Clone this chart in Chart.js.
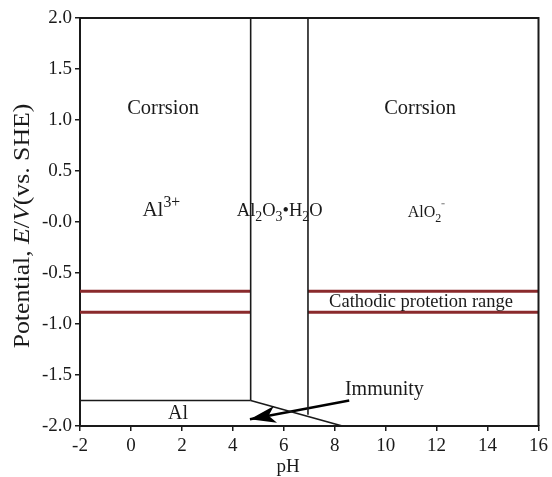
<!DOCTYPE html>
<html>
<head>
<meta charset="utf-8">
<script src="https://cdn.jsdelivr.net/npm/chart.js@4.4.1/dist/chart.umd.min.js"></script>
<style>
  html, body { margin: 0; padding: 0; background: #fff; }
  #wrap { width: 552px; height: 477px; }
</style>
</head>
<body>
<div id="wrap"><canvas id="chart" width="552" height="477"></canvas></div>
<script>
// tick labels (y axis prints "-0.0" in the source figure)
const yTickLabels = ["-2.0", "-1.5", "-1.0", "-0.5", "-0.0", "0.5", "1.0", "1.5", "2.0"];

// phase boundaries, as pH / potential pairs
const oxideLeftPH = [4.7, 4.7];
const oxideLeftE = [2.0, -1.75];
const oxideRightPH = [6.95, 6.95];
const oxideRightE = [2.0, -1.89];
const metalLinePH = [-2, 4.7];
const metalLineE = [-1.75, -1.75];
const metalSlopePH = [4.7, 8.3];
const metalSlopeE = [-1.75, -2.0];

// cathodic protection band (two potentials, broken by the oxide region)
const cathodicE = [-0.68, -0.885];
const cathodicLeftPH = [-2, 4.7];
const cathodicRightPH = [6.95, 16];

// "Immunity" pointer, tail -> tip
const arrowPH = [8.57, 4.67];
const arrowE = [-1.75, -1.934];

const FONT = "'Liberation Serif', 'Times New Roman', serif";
const INK = "#1a1a1a";
const RED = "#8a2a2c";

function pts(xs, ys) {
  return xs.map((x, i) => ({ x: x, y: ys[i] }));
}

function lineSet(data, color, width) {
  return {
    data: data,
    showLine: true,
    borderColor: color,
    borderWidth: width,
    pointRadius: 0,
    pointHoverRadius: 0,
    fill: false,
  };
}

const datasets = [
  lineSet(pts(oxideLeftPH, oxideLeftE), INK, 1.6),
  lineSet(pts(oxideRightPH, oxideRightE), INK, 1.6),
  lineSet(pts(metalLinePH, metalLineE), INK, 1.6),
  lineSet(pts(metalSlopePH, metalSlopeE), INK, 1.6),
];
cathodicE.forEach((e) => {
  datasets.push(lineSet(pts(cathodicLeftPH, [e, e]), RED, 3));
  datasets.push(lineSet(pts(cathodicRightPH, [e, e]), RED, 3));
});
const ARROW_INDEX = datasets.length;
datasets.push(lineSet(pts(arrowPH, arrowE), "#000", 2.4));

// draws text with sub/superscripts, centred on cx, baseline at by
function drawRich(ctx, parts, cx, by, size) {
  const fontOf = (p) => {
    const s = p.sub || p.sup ? size * 0.75 : size;
    return (p.it ? "italic " : "") + s + "px " + FONT;
  };
  let total = 0;
  parts.forEach((p) => {
    ctx.font = fontOf(p);
    p.w = ctx.measureText(p.t).width;
    total += p.w;
  });
  let x = cx - total / 2;
  parts.forEach((p) => {
    ctx.font = fontOf(p);
    let dy = 0;
    if (p.sub) dy = size * 0.3;
    if (p.sup) dy = -size * 0.4;
    ctx.fillText(p.t, x, by + dy);
    x += p.w;
  });
  return total;
}

const labels = [
  { ph: 1.26, e: 1.06, size: 20.5, parts: [{ t: "Corrsion" }] },
  { ph: 11.35, e: 1.06, size: 20.5, parts: [{ t: "Corrsion" }] },
  { ph: 1.19, e: 0.06, size: 21, parts: [{ t: "Al" }, { t: "3+", sup: true }] },
  { ph: 5.84, e: 0.06, size: 18.5, parts: [{ t: "Al" }, { t: "2", sub: true }, { t: "O" }, { t: "3", sub: true }, { t: "\u2022H" }, { t: "2", sub: true }, { t: "O" }] },
  { ph: 11.6, e: 0.05, size: 16, parts: [{ t: "AlO" }, { t: "2", sub: true }, { t: "\u207B", sup: true }] },
  { ph: 11.39, e: -0.83, size: 18.5, parts: [{ t: "Cathodic protetion range" }] },
  { ph: 9.95, e: -1.7, size: 20, parts: [{ t: "Immunity" }] },
  { ph: 1.85, e: -1.93, size: 20, parts: [{ t: "Al" }] },
];

const decorPlugin = {
  id: "decor",
  afterDatasetsDraw(chart) {
    const ctx = chart.ctx;
    const a = chart.chartArea;
    const xs = chart.scales.x;
    const ys = chart.scales.y;
    ctx.save();

    // top / right frame
    ctx.strokeStyle = INK;
    ctx.lineWidth = 2;
    ctx.beginPath();
    ctx.moveTo(a.left, a.top);
    ctx.lineTo(a.right, a.top);
    ctx.lineTo(a.right, a.bottom);
    ctx.stroke();

    // arrow head at the tip of the pointer
    const meta = chart.getDatasetMeta(ARROW_INDEX).data;
    const tail = meta[0], tip = meta[1];
    const ang = Math.atan2(tip.y - tail.y, tip.x - tail.x);
    const len = 26, half = 8.5, notch = 19;
    ctx.fillStyle = "#000";
    ctx.beginPath();
    ctx.moveTo(tip.x, tip.y);
    ctx.lineTo(tip.x - len * Math.cos(ang) + half * Math.sin(ang), tip.y - len * Math.sin(ang) - half * Math.cos(ang));
    ctx.lineTo(tip.x - notch * Math.cos(ang), tip.y - notch * Math.sin(ang));
    ctx.lineTo(tip.x - len * Math.cos(ang) - half * Math.sin(ang), tip.y - len * Math.sin(ang) + half * Math.cos(ang));
    ctx.closePath();
    ctx.fill();

    // region labels
    ctx.fillStyle = INK;
    ctx.textBaseline = "alphabetic";
    labels.forEach((l) => {
      drawRich(ctx, l.parts, xs.getPixelForValue(l.ph), ys.getPixelForValue(l.e), l.size);
    });

    // x axis title (sits left of centre in the source)
    drawRich(ctx, [{ t: "pH" }], 288, 472, 19);

    // y axis title with italic E/V, a little stretched along its length
    ctx.translate(29, 226);
    ctx.rotate(-Math.PI / 2);
    ctx.scale(1.12, 1);
    drawRich(ctx, [{ t: "Potential, " }, { t: "E", it: true }, { t: "/" }, { t: "V", it: true }, { t: "(vs. SHE)" }], 0, 0, 23);
    ctx.restore();
  },
};

new Chart(document.getElementById("chart"), {
  type: "scatter",
  data: { datasets: datasets },
  options: {
    responsive: false,
    animation: false,
    layout: { padding: { top: 18, right: 12, left: 0, bottom: 0 } },
    plugins: { legend: { display: false }, tooltip: { enabled: false } },
    scales: {
      x: {
        type: "linear",
        min: -2,
        max: 16,
        ticks: { stepSize: 2, color: INK, font: { family: FONT, size: 19 }, padding: 4 },
        grid: { drawOnChartArea: false, tickLength: 5, color: INK, lineWidth: 1.5 },
        border: { color: INK, width: 2 },
        afterFit(scale) { scale.height = 51; },
      },
      y: {
        type: "linear",
        min: -2,
        max: 2,
        ticks: {
          stepSize: 0.5,
          color: INK,
          font: { family: FONT, size: 19 },
          padding: 3,
          callback: (v, i) => yTickLabels[i],
        },
        grid: { drawOnChartArea: false, tickLength: 5, color: INK, lineWidth: 1.5 },
        border: { color: INK, width: 2 },
        afterFit(scale) { scale.width = 80; },
      },
    },
  },
  plugins: [decorPlugin],
});
</script>
</body>
</html>
